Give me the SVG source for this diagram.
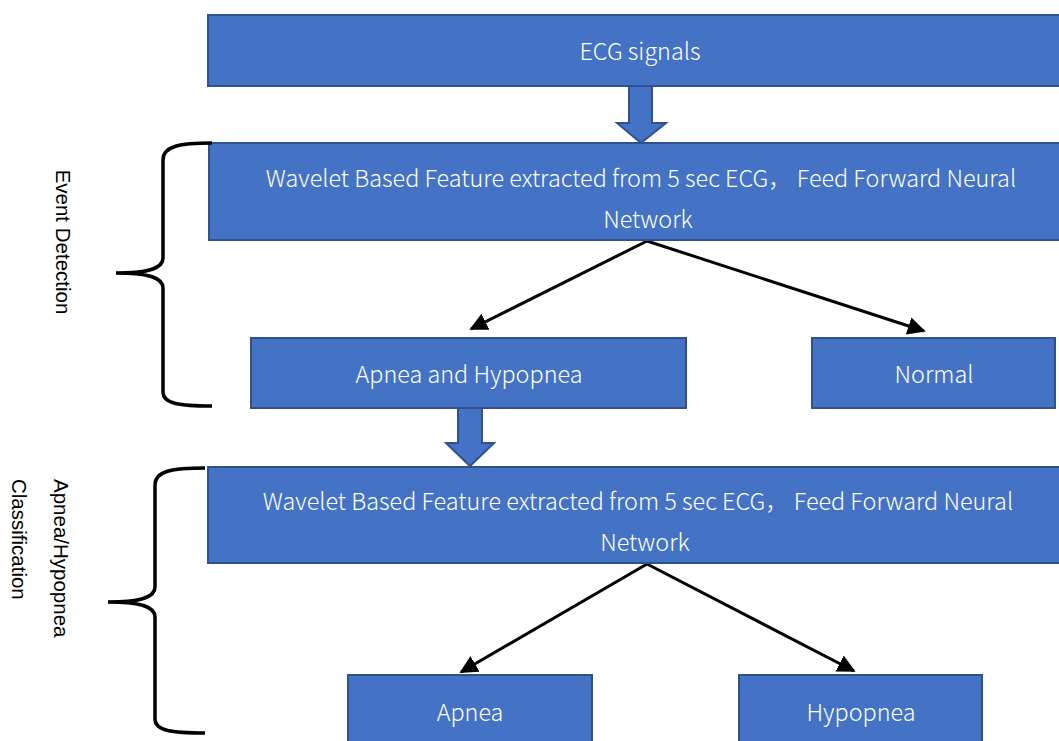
<svg xmlns="http://www.w3.org/2000/svg" width="1059" height="741" viewBox="0 0 1059 741">
<defs>
<style>
.box{fill:#4472C4;stroke:#2F528F;stroke-width:2}
.bt{fill:#fff;font-family:"Noto Sans CJK SC","Noto Sans",sans-serif;font-size:23.4px;font-weight:300;text-anchor:middle;dominant-baseline:central}
.lbl{fill:#000;font-family:"Liberation Sans",Arial,sans-serif;font-size:20.5px}
.con{stroke:#000;stroke-width:3;fill:none;marker-end:url(#ah)}
.brace{stroke:#000;stroke-width:3.5;fill:none}
.blk{fill:#4472C4;stroke:#2F528F;stroke-width:2}
</style>
<marker id="ah" viewBox="0 0 10 10" refX="9" refY="5" markerWidth="6" markerHeight="6" markerUnits="strokeWidth" orient="auto">
<path d="M0,0 L10,5 L0,10 z" fill="#000"/>
</marker>
</defs>
<rect width="1059" height="741" fill="#fff"/>

<g id="connectors">
<path class="con" d="M647,241 L471,329"/>
<path class="con" d="M647,241 L924,331"/>
<path class="con" d="M647,564 L461,672"/>
<path class="con" d="M647,564 L854,671"/>
</g>

<g id="block-arrow-1"><path class="blk" d="M629,86 L652,86 L652,123 L666,123 L641,143 L617,123 L629,123 Z"/></g>
<g id="block-arrow-2"><path class="blk" d="M458,407 L482,407 L482,443 L494,443 L470,466 L446,443 L458,443 Z"/></g>

<g id="ecg"><rect class="box" x="208" y="15" width="852" height="71"/><text class="bt" x="640" y="50">ECG signals</text></g>
<g id="feat1"><rect class="box" x="209" y="143" width="851" height="97"/>
<text class="bt" x="641" y="177">Wavelet Based Feature extracted from 5 sec ECG， Feed Forward Neural</text>
<text class="bt" x="648" y="218">Network</text></g>
<g id="apnea-hypopnea"><rect class="box" x="251" y="338" width="435" height="70"/><text class="bt" x="469" y="373">Apnea and Hypopnea</text></g>
<g id="normal"><rect class="box" x="812" y="338" width="243" height="70"/><text class="bt" x="934" y="373">Normal</text></g>
<g id="feat2"><rect class="box" x="208" y="467" width="852" height="96"/>
<text class="bt" x="638" y="500">Wavelet Based Feature extracted from 5 sec ECG， Feed Forward Neural</text>
<text class="bt" x="645" y="541">Network</text></g>
<g id="apnea"><rect class="box" x="348" y="675" width="244" height="70"/><text class="bt" x="470" y="711">Apnea</text></g>
<g id="hypopnea"><rect class="box" x="739" y="675" width="243" height="70"/><text class="bt" x="861" y="711">Hypopnea</text></g>

<g id="brace-event">
<path class="brace" d="M212,143 C180,143 163,146 163,160 L163,258 C163,268 150,273 116,273 C150,273 163,278 163,288 L163,392 C163,404 180,406 212,406"/>
<text class="lbl" transform="translate(56,242) rotate(90)" text-anchor="middle">Event Detection</text>
</g>
<g id="brace-class">
<path class="brace" d="M205,468 C172,468 155,471 155,485 L155,587 C155,597 142,602 108,602 C142,602 155,607 155,617 L155,719 C155,731 172,733 205,733"/>
<text class="lbl" transform="translate(54,479) rotate(90)">Apnea/Hypopnea</text>
<text class="lbl" transform="translate(12,479) rotate(90)">Classification</text>
</g>
</svg>
